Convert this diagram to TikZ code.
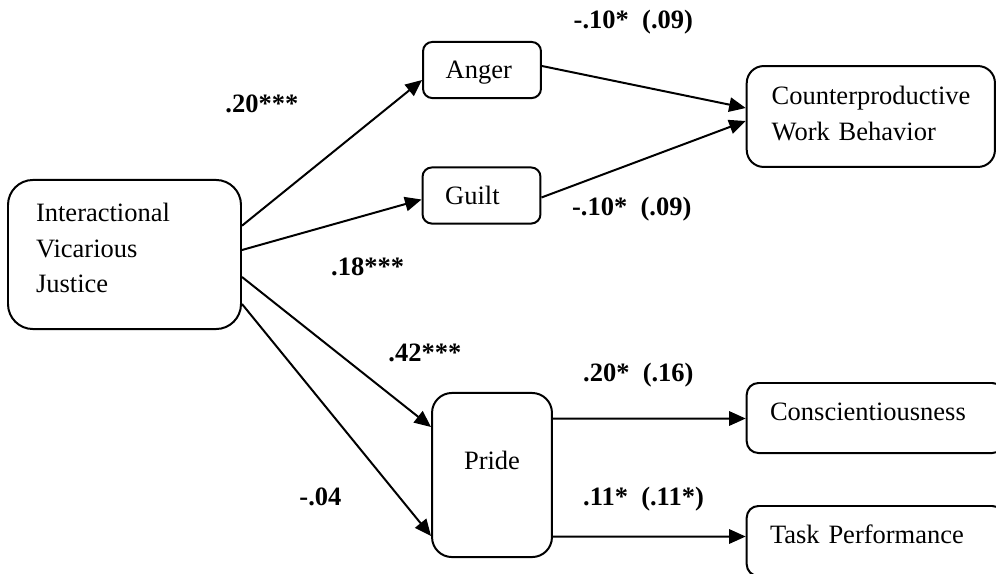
\documentclass[tikz,border=0pt]{standalone}
\usepackage{fontspec}
\setmainfont{Liberation Serif}
\usetikzlibrary{arrows.meta,calc}

\begin{document}
\begin{tikzpicture}[x=0.4528pt,y=-0.4528pt,
  box/.style={draw,line width=0.9pt,align=left,inner sep=0pt,
    font=\fontsize{12}{16}\selectfont},
  coef/.style={anchor=base west,inner sep=0pt,font=\fontsize{12}{14}\selectfont\bfseries},
  link/.style={line width=0.9pt,-{Triangle[length=7.5pt,width=6.5pt]}}
]
\clip (0,0) rectangle (996,573);

% the predictor
\node[box,rounded corners=11.3pt,minimum width=105.5pt,minimum height=67.5pt,text width=80.1pt]
  (ivj) at (124.5,254.5) {Interactional\\Vicarious\\Justice\rule[-6pt]{0pt}{6pt}};

% the emotions
\node[box,rounded corners=4.2pt,minimum width=53.4pt,minimum height=25.4pt,text width=32.9pt,
  text height=8pt,text depth=0pt] (anger) at (482,70) {Anger};
\node[box,rounded corners=4.2pt,minimum width=53.4pt,minimum height=25.4pt,text width=32.9pt,
  text height=8pt,text depth=0pt] (guilt) at (481.5,195.5) {Guilt};
\node[box,rounded corners=9pt,minimum width=54.3pt,minimum height=74.3pt,
  text height=8pt,text depth=13.4pt] (pride) at (492,475) {Pride};

% the outcomes
\node[box,rounded corners=7.7pt,minimum width=112.4pt,minimum height=45.7pt,text width=89.8pt]
  (cwb) at (870.85,116.5) {Counterproductive\\Work Behavior\rule[-3pt]{0pt}{3pt}};
\node[box,rounded corners=5.3pt,minimum width=116.5pt,minimum height=31.7pt,text width=95.4pt,
  text height=8pt,text depth=5.3pt] (consc) at (875.35,418) {Conscientiousness};
\node[box,rounded corners=5.3pt,minimum width=116.5pt,minimum height=31.7pt,text width=95.4pt,
  text height=8pt,text depth=5.3pt] (task) at (875.35,541) {Task Performance};

% the arrows
\draw[link] ($(ivj.east)+(0,-28.8)$) -- ($(anger.west)+(0,10)$);
\draw[link] ($(ivj.east)+(0,-4.5)$) -- ($(guilt.west)+(0,4)$);
\draw[link] ($(ivj.east)+(0,22.5)$) -- ($(pride.west)+(0,-48)$);
\draw[link] ($(ivj.east)+(0,49.5)$) -- ($(pride.west)+(0,61)$);
\draw[link] ($(anger.east)+(0,-4)$) -- ($(cwb.west)+(0,-8.5)$);
\draw[link] ($(guilt.east)+(0,2)$) -- ($(cwb.west)+(0,4.5)$);
\draw[link] ($(pride.east)+(0,-56.5)$) -- ($(consc.west)+(0,0.5)$);
\draw[link] ($(pride.east)+(0,61.5)$) -- ($(task.west)+(0,-4.5)$);

% the coefficients
\node[coef] (w20) at (225,112.7) {.20***};
\node[coef] (w18) at (330.7,275.7) {.18***};
\node[coef] (w42) at (388,361.7) {.42***};
\node[coef] (w04) at (299,505) {-.04};
\node[coef] (wanger) at (573.3,28.3) {-.10*\ \ (.09)};
\node[coef] (wguilt) at (571.7,215) {-.10*\ \ (.09)};
\node[coef] (wconsc) at (582.7,381.7) {.20*\ \ (.16)};
\node[coef] (wtask) at (582.7,505) {.11*\ \ (.11*)};

\end{tikzpicture}
\end{document}
